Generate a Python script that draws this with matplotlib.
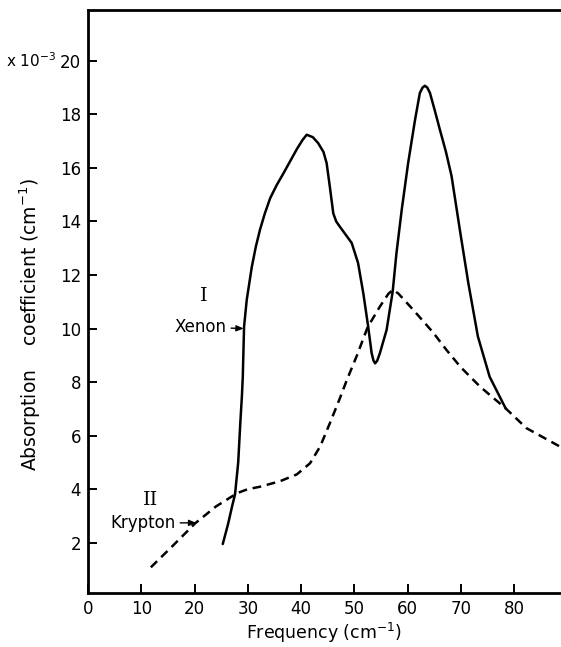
import numpy as np
import matplotlib.pyplot as plt

# Xenon (curve I), solid
xenon_freq = [25.3, 26.3, 27.1, 27.6, 28.2, 28.6, 28.9, 29.06, 29.3, 29.8, 30.75, 31.5,
              32.3, 33.2, 34.2, 35.4, 36.7, 39.2, 40.3, 41.06, 42.2, 43.2, 44.2, 44.8,
              45.4, 46.05, 46.6, 47.3, 48.4, 49.5, 50.7, 51.7, 52.6, 53.25, 53.6, 53.9,
              54.3, 54.8, 56.06, 57.2, 57.9, 58.9, 60.1, 61.4, 62.3, 62.8, 63.25, 63.7,
              64.2, 65.1, 66.06, 67.2, 68.25, 69.8, 71.4, 73.2, 75.4, 78.4]
xenon_abs = [1.95, 2.7, 3.4, 3.8, 5.0, 6.5, 7.5, 8.2, 10.07, 11.07, 12.3, 13.05,
             13.7, 14.3, 14.87, 15.35, 15.8, 16.7, 17.05, 17.24, 17.15, 16.93, 16.6, 16.18,
             15.3, 14.3, 14.0, 13.8, 13.5, 13.2, 12.45, 11.3, 10.07, 9.08, 8.8, 8.7,
             8.8, 9.08, 9.95, 11.38, 12.8, 14.44, 16.18, 17.8, 18.8, 19.0, 19.07, 19.0,
             18.8, 18.15, 17.43, 16.6, 15.7, 13.7, 11.7, 9.7, 8.2, 7.02]

# Krypton (curve II), dashed
krypton_freq = [11.8, 16.0, 20.1, 24.0, 26.0, 28.0, 30.0, 32.3, 36.1, 39.2, 41.7, 43.6,
                45.4, 47.3, 48.6, 50.5, 52.5, 54.8, 56.4, 57.3, 58.3, 61.05, 64.8, 67.3,
                70.0, 73.6, 78.4, 82.3, 88.6, 90.0]
krypton_abs = [1.08, 1.9, 2.72, 3.35, 3.6, 3.85, 4.0, 4.09, 4.3, 4.55, 4.97, 5.6,
               6.46, 7.4, 8.08, 9.0, 10.05, 10.82, 11.3, 11.45, 11.3, 10.7, 9.85, 9.2,
               8.55, 7.83, 7.02, 6.28, 5.59, 5.45]

xticks = [0, 10, 20, 30, 40, 50, 60, 70, 80]
yticks = [2, 4, 6, 8, 10, 12, 14, 16, 18, 20]

plt.rcParams['font.family'] = ['DejaVu Sans']

fig = plt.figure(figsize=(5.61, 6.47), dpi=100)
ax = fig.add_axes([88 / 561, 54 / 647, 1 - 88 / 561, 583 / 647])

ax.plot(xenon_freq, xenon_abs, color='black', lw=1.8,
        solid_capstyle='round', solid_joinstyle='round')
ax.plot(krypton_freq, krypton_abs, color='black', lw=1.8, linestyle=(0, (3.5, 2.3)))

ax.set_xlim(0, 88.8)
ax.set_ylim(0.12, 21.9)
ax.set_xticks(xticks)
ax.set_yticks(yticks)
ax.tick_params(direction='in', length=6.5, width=1.4, labelsize=12, pad=5)

for s in ['left', 'bottom', 'top']:
    ax.spines[s].set_linewidth(2.0)
ax.spines['right'].set_visible(False)

ax.set_xlabel('Frequency (cm$^{-1}$)', fontsize=12.5, labelpad=2)
ax.set_ylabel('Absorption    coefficient (cm$^{-1}$)', fontsize=13.5)
ax.yaxis.set_label_coords(-0.095, 0.46)

# scale factor next to the top tick label
ax.text(-0.068, 20, 'x 10$^{-3}$', transform=ax.get_yaxis_transform(),
        ha='right', va='center', fontsize=11)

# curve labels
ax.text(21.7, 11.2, 'I', fontsize=14, family='DejaVu Serif', ha='center', va='center')
ax.annotate('Xenon', xy=(29.2, 10.0), xytext=(21.2, 10.05), fontsize=12,
            ha='center', va='center',
            arrowprops=dict(arrowstyle='-|>,head_length=0.35,head_width=0.15',
                            color='black', lw=1.0, shrinkA=1, shrinkB=0))
ax.text(11.7, 3.6, 'II', fontsize=14, family='DejaVu Serif', ha='center', va='center')
ax.annotate('Krypton', xy=(20.3, 2.74), xytext=(10.4, 2.74), fontsize=12,
            ha='center', va='center',
            arrowprops=dict(arrowstyle='-|>,head_length=0.35,head_width=0.15',
                            color='black', lw=1.0, shrinkA=1, shrinkB=0))

plt.savefig('out.png', dpi=100)
